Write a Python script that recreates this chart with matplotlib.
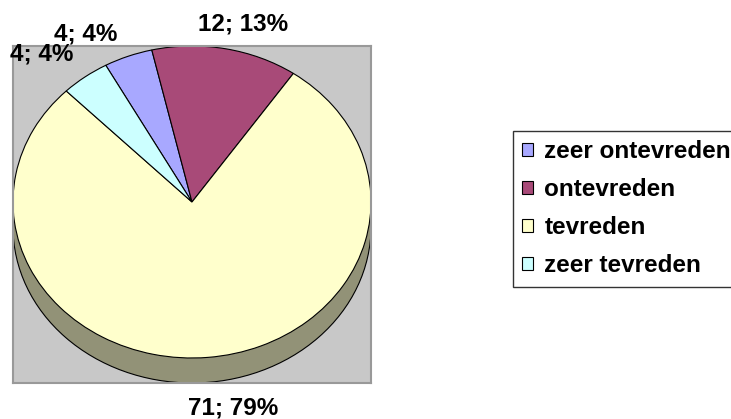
import matplotlib
matplotlib.use("Agg")
import matplotlib.pyplot as plt
from matplotlib.patches import Ellipse, Rectangle

plt.rcParams['font.family'] = ['Liberation Sans', 'DejaVu Sans']

# data
categories = ['zeer ontevreden', 'ontevreden', 'tevreden', 'zeer tevreden']
counts = [4, 12, 71, 4]
percents = [4, 13, 79, 4]   # as printed on the chart

colors = ['#A8A8FF', '#A84A78', '#FFFFCC', '#CCFFFF']
side_color = '#929277'

# label anchors (axes data units, x in radii, y in vertical radii)
label_pos = [(-0.595, 1.038), (0.285, 1.099), (0.232, -1.365), (-0.84, 0.91)]

depth = 25 / 156.0  # thickness of the pie, in vertical radii

fig = plt.figure(figsize=(7.31, 4.19), dpi=100)
ax = fig.add_axes([13 / 731, 36 / 419, 358 / 731, 337 / 419])

# side of the 3d pie
ax.add_patch(Ellipse((0, -depth), 2, 2, facecolor=side_color,
                     edgecolor='black', lw=0.8, zorder=0.5))
ax.add_patch(Rectangle((-1, -depth), 2, depth, facecolor=side_color,
                       edgecolor='none', zorder=0.6))

wedges, _ = ax.pie(counts, colors=colors, startangle=118.8, counterclock=False,
                   radius=1, frame=True,
                   wedgeprops=dict(edgecolor='black', linewidth=0.8))

ax.set_aspect('auto')
ax.set_xlim(-1, 1)
ax.set_ylim(-1 - depth, 1)
ax.set_xticks([])
ax.set_yticks([])
ax.set_facecolor('#C8C8C8')
for s in ax.spines.values():
    s.set_color('#999999')
    s.set_linewidth(1.5)

for (x, y), n, p in zip(label_pos, counts, percents):
    ax.text(x, y, f'{n}; {p}%', ha='center', va='baseline', fontsize=17.5,
            fontweight='bold', clip_on=False)

leg = fig.legend(wedges, categories, loc='upper left',
                 bbox_to_anchor=(513 / 731, 1 - 131 / 419), borderaxespad=0,
                 prop=dict(weight='bold', size=17.5),
                 frameon=True, fancybox=False, edgecolor='black',
                 handlelength=0.46, handleheight=0.46, handletextpad=0.45,
                 labelspacing=0.62, borderpad=0.38)
leg.get_frame().set_linewidth(1.0)

fig.savefig('out.png', dpi=100)
